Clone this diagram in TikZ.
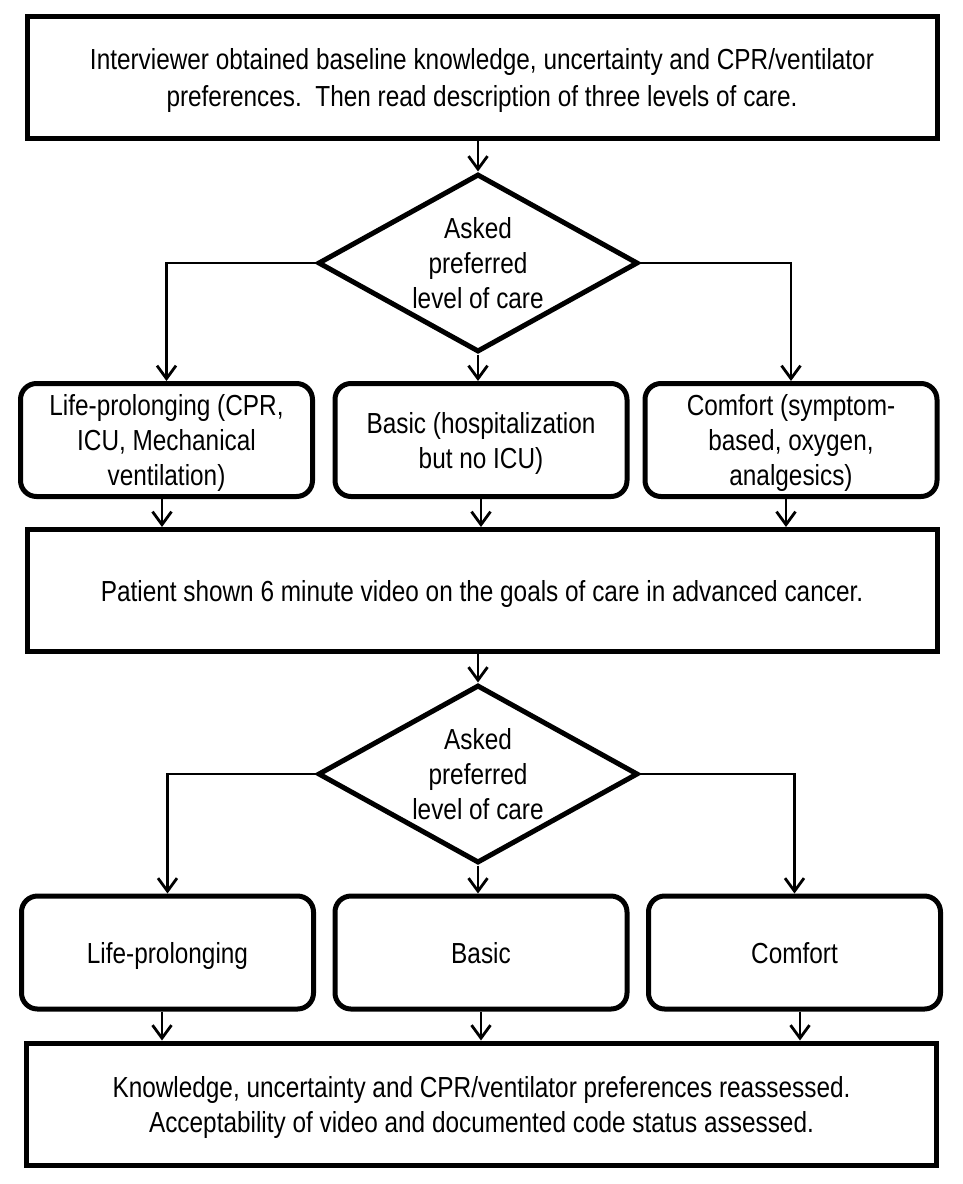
\documentclass[tikz,border=0pt]{standalone}
\usepackage{fontspec}
\setmainfont[FakeStretch=0.84]{Liberation Sans}
\usetikzlibrary{shapes.geometric,arrows.meta}

\tikzset{
  stepbox/.style={draw, line width=5pt, minimum width=910pt, minimum height=122pt,
    align=center, inner sep=0pt, text depth=0pt},
  levelbox/.style={draw, line width=5pt, rounded corners=16pt, minimum width=292pt,
    minimum height=113pt, align=center, inner sep=0pt, text depth=0pt},
  askbox/.style={draw, diamond, line width=5pt, aspect=1.8, minimum width=320pt,
    minimum height=178pt, align=center, inner sep=0pt},
  arr/.style={line width=2.8pt, -{Straight Barb[length=13pt,width=19pt]}},
}

\begin{document}
\begin{tikzpicture}[x=1pt, y=-1pt, font=\fontsize{29}{35}\selectfont]
      \newcommand\Lx{166.5}
      \newcommand\Mx{481}
      \newcommand\Rx{791}
      \useasboundingbox (0,0) rectangle (962,1184);
      % before the video
      \node[stepbox] (intro) at (482,77.5) {Interviewer obtained baseline knowledge, uncertainty and CPR/ventilator\\[2pt]
        preferences.\ \ Then read description of three levels of care.};
      \node[askbox] (ask1) at (478,263) {Asked\\preferred\\level of care};
      \node[levelbox] (life1) at (\Lx,440) {Life-prolonging (CPR,\\ICU, Mechanical\\ventilation)};
      \node[levelbox] (basic1) at (\Mx,440) {Basic (hospitalization\\but no ICU)};
      \node[levelbox] (comfort1) at (\Rx,440) {Comfort (symptom-\\based, oxygen,\\analgesics)};
      \node[stepbox] (video) at (482,590.5) {Patient shown 6 minute video on the goals of care in advanced cancer.};
      % after the video
      \node[askbox] (ask2) at (478,774) {Asked\\preferred\\level of care};
      \node[levelbox] (life2) at (167.5,952.5) {Life-prolonging};
      \node[levelbox] (basic2) at (\Mx,952.5) {Basic};
      \node[levelbox] (comfort2) at (794.5,952.5) {Comfort};
      \node[stepbox] (reassess) at (481.5,1104) {Knowledge, uncertainty and CPR/ventilator preferences reassessed.\\
        Acceptability of video and documented code status assessed.};

      \draw[arr] (intro.south -| ask1.north) -- (ask1.north);
      \draw[arr] (ask1.west) -| (life1.north);
      \draw[arr] (ask1.south) -- (ask1.south |- basic1.north);
      \draw[arr] (ask1.east) -| (comfort1.north);
      \draw[arr] ([xshift=-4.5pt]life1.south) -- ([xshift=-4.5pt]life1.south |- video.north);
      \draw[arr] (basic1.south) -- (basic1.south |- video.north);
      \draw[arr] ([xshift=-5pt]comfort1.south) -- ([xshift=-5pt]comfort1.south |- video.north);

      \draw[arr] (video.south -| ask2.north) -- (ask2.north);
      \draw[arr] (ask2.west) -| (life2.north);
      \draw[arr] (ask2.south) -- (ask2.south |- basic2.north);
      \draw[arr] (ask2.east) -| (comfort2.north);
      \draw[arr] ([xshift=-5.5pt]life2.south) -- ([xshift=-5.5pt]life2.south |- reassess.north);
      \draw[arr] (basic2.south) -- (basic2.south |- reassess.north);
      \draw[arr] ([xshift=5.5pt]comfort2.south) -- ([xshift=5.5pt]comfort2.south |- reassess.north);
    \end{tikzpicture}
\end{document}
